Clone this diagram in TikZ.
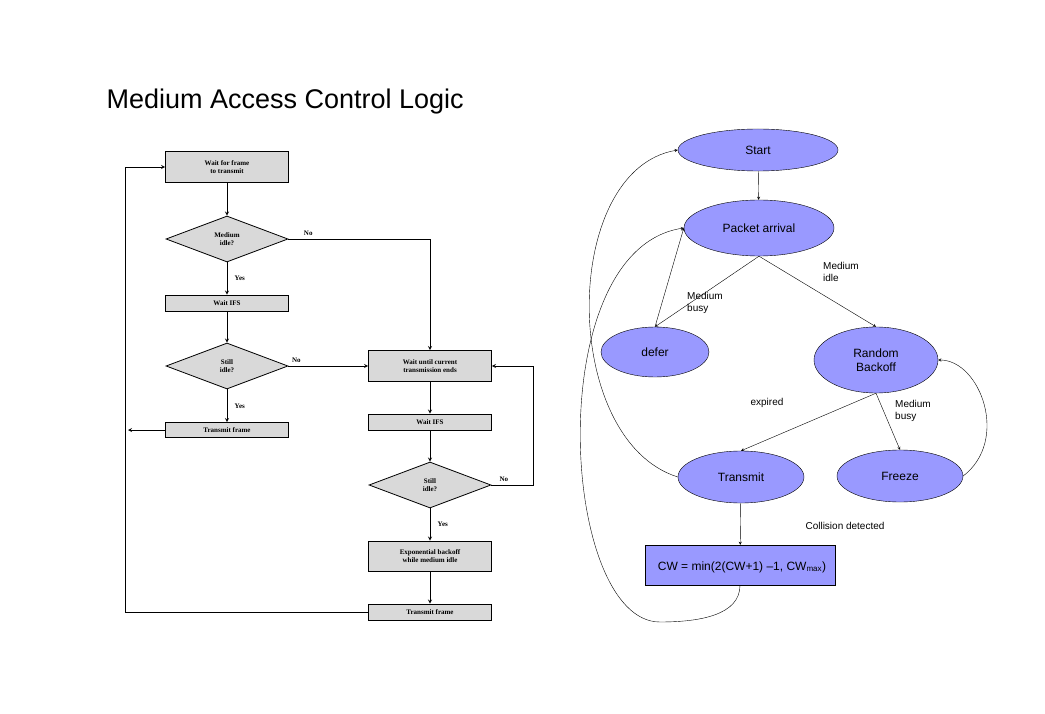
\documentclass[tikz,border=0pt]{standalone}
\usepackage{fontspec}
\setmainfont{Liberation Sans}
\newfontfamily\flowfont{Liberation Serif}
\usetikzlibrary{shapes.geometric, positioning}

\definecolor{boxgray}{HTML}{D9D9D9}
\definecolor{statefill}{HTML}{9999FF}

\begin{document}
\begin{tikzpicture}[x=1pt, y=-1pt]

            \tikzset{
                stepbox/.style = {rectangle, draw=black, thick, fill=boxgray, font=\flowfont\bfseries\scriptsize, align=center, minimum width=123pt, inner sep=1pt},
                test/.style = {diamond, aspect=2.65, draw=black, thick, fill=boxgray, font=\flowfont\bfseries\scriptsize, align=center, minimum width=122pt, minimum height=46pt, inner sep=0pt},
                lbl/.style = {font=\flowfont\bfseries\scriptsize},
                state/.style = {ellipse, draw=black, fill=statefill, font=\large, align=center, inner sep=0pt},
                note/.style = {font=\normalsize, align=left, inner sep=0pt},
                flow/.style = {thick, ->, >=stealth},
                arrow/.style = {->, >=stealth}
            }

            \useasboundingbox (0,0) rectangle (1045,714);
            \node (title) [anchor=west, font=\fontsize{27}{30}\selectfont] at (103,102) {Medium Access Control Logic};

            % left flowchart
            \node (wait) [stepbox, minimum height=31pt] at (227,167) {Wait for frame\\to transmit};
            \node (idle) [test] at (227,239) {Medium\\idle?};
            \node (ifs) [stepbox, minimum height=16pt] at (227,303) {Wait IFS};
            \node (still) [test] at (227,366) {Still\\idle?};
            \node (send) [stepbox, minimum height=15pt] at (227,430) {Transmit frame};
            \node (busy) [stepbox, minimum height=31pt] at (430,366) {Wait until current\\transmission ends};
            \node (ifsb) [stepbox, minimum height=16pt] at (430,422) {Wait IFS};
            \node (stillb) [test] at (430,485) {Still\\idle?};
            \node (expo) [stepbox, minimum height=30pt] at (430,556) {Exponential backoff\\while medium idle};
            \node (sendb) [stepbox, minimum height=16pt] at (430,612) {Transmit frame};
            \coordinate (back) at (125,612);
            \coordinate (loop) at (533,485);

            \draw [flow] (wait) -- (idle);
            \draw [flow] (idle) -- node[lbl, right=4pt] {Yes} (ifs);
            \draw [flow] (ifs) -- (still);
            \draw [flow] (still) -- node[lbl, right=4pt] {Yes} (send);
            \draw [flow] (idle.east) -| node[lbl, pos=0.07, above] {No} (busy.north);
            \draw [flow] (still.east) -- node[lbl, pos=0.1, above] {No} (busy.west);
            \draw [flow] (busy) -- (ifsb);
            \draw [flow] (ifsb) -- (stillb);
            \draw [flow] (stillb) -- node[lbl, right=4pt] {Yes} (expo);
            \draw [flow] (expo) -- (sendb);
            \draw [flow] (stillb.east) -- node[lbl, pos=0.3, above] {No} (loop) |- (busy.east);
            \draw [flow] (sendb.west) -- (back) |- (wait.west);
            \draw [arrow, thick] (send.west) -- (128,430);

            % right state diagram
            \node (start) [state, minimum width=160pt, minimum height=42pt] at (758,150) {Start};
            \node (arrive) [state, minimum width=150pt, minimum height=56pt] at (759,228) {Packet arrival};
            \node (defer) [state, minimum width=108pt, minimum height=50pt] at (655,352) {defer};
            \node (backoff) [state, minimum width=124pt, minimum height=66pt] at (876,360) {Random\\Backoff};
            \node (transmit) [state, minimum width=126pt, minimum height=52pt] at (741,477) {Transmit};
            \node (freeze) [state, minimum width=126pt, minimum height=52pt] at (900,476) {Freeze};
            \node (cw) [rectangle, draw=black, fill=statefill, minimum width=190pt, minimum height=40pt] at (740,565) {};
            \node (cwtext) [font=\large, inner sep=0pt] at (742,567) {CW = min(2(CW+1) --1, CW\textsubscript{max})};
            \coordinate (low) at (660,622);

            \draw [arrow] (start) -- (arrive);
            \draw [arrow] (arrive.south) -- (defer.north);
            \draw [arrow] (defer.north) -- (arrive.west);
            \draw [arrow] (arrive.south) -- (backoff.north);
            \draw [arrow] (backoff.south) -- (transmit.north);
            \draw [arrow] (backoff.south) -- (freeze.north);
            \draw [arrow] (transmit) -- (cw);
            \draw [arrow] (transmit.west) .. controls (560,440) and (560,170) .. (start.west);
            \draw [arrow] (cw.south) .. controls (740,615) and (700,622) .. (low) .. controls (560,622) and (540,250) .. (arrive.west);
            \draw [arrow] (freeze.east) .. controls (1010,440) and (980,360) .. (backoff.east);

            \node (lbusy) [note, anchor=north west] at (687,292) {Medium\\busy};
            \node (lidle) [note, anchor=north west] at (823,262) {Medium\\idle};
            \node (lexp) [note] at (767,403) {expired};
            \node (lfreeze) [note, anchor=north west] at (895,400) {Medium\\busy};
            \node (lcoll) [note] at (845,526) {Collision detected};
\end{tikzpicture}
\end{document}
